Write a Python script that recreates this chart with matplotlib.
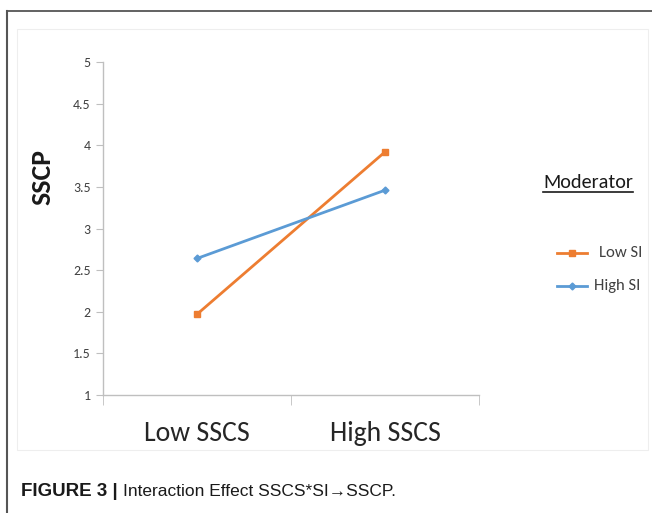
import matplotlib.pyplot as plt
from matplotlib.lines import Line2D
from matplotlib.patches import Rectangle
from matplotlib import font_manager

categories = ["Low SSCS", "High SSCS"]
low_si = [1.97, 3.92]
high_si = [2.64, 3.46]
y_ticks = [1, 1.5, 2, 2.5, 3, 3.5, 4, 4.5, 5]
y_labels = ["1", "1.5", "2", "2.5", "3", "3.5", "4", "4.5", "5"]

ORANGE = "#ED7D31"
BLUE = "#5B9BD5"
AXIS_GRAY = "#BFBFBF"
TEXT = "#404040"

names = {f.name for f in font_manager.fontManager.ttflist}
cap_font = "Liberation Sans Narrow" if "Liberation Sans Narrow" in names else "Liberation Sans"
chart_font = "Carlito" if "Carlito" in names else "Lato"

W, H = 652, 513
fig = plt.figure(figsize=(W / 100, H / 100), dpi=100)

def fx(px):
    return px / W

def fy(py):
    return 1 - py / H

# outer frame (left + top)
fig.add_artist(Line2D([fx(7), fx(7)], [fy(11), 0], color="#555555", lw=1.5))
fig.add_artist(Line2D([fx(7), 1], [fy(11), fy(11)], color="#555555", lw=1.3))
# faint chart area box
fig.add_artist(Rectangle((fx(17), fy(450)), fx(648) - fx(17), fy(29) - fy(450),
                         transform=fig.transFigure, fill=False, ec="#eeeeee", lw=0.8))

ax = fig.add_axes([fx(103), fy(395), fx(479) - fx(103), fy(62) - fy(395)])
x = [0.5, 1.5]
ax.plot(x, low_si, color=ORANGE, lw=2, marker="s", ms=5, label="Low SI")
ax.plot(x, high_si, color=BLUE, lw=2, marker="D", ms=3.5, label="High SI")

ax.set_xlim(0, 2)
ax.set_ylim(1, 5)
ax.set_yticks(y_ticks)
ax.set_yticklabels(y_labels, fontsize=10, color=TEXT, family=chart_font)
ax.set_xticks(x)
ax.set_xticklabels(categories, fontsize=20, color="#262626", family=chart_font)
ax.set_xticks([0, 1, 2], minor=True)
ax.tick_params(axis="x", which="major", length=0, pad=19)
ax.tick_params(axis="x", which="minor", length=7, color=AXIS_GRAY, direction="out")
ax.tick_params(axis="y", length=5, color=AXIS_GRAY, direction="out", pad=4)
for s in ["top", "right"]:
    ax.spines[s].set_visible(False)
for s in ["left", "bottom"]:
    ax.spines[s].set_color(AXIS_GRAY)
    ax.spines[s].set_linewidth(1)

fig.text(fx(42), fy(177), "SSCP", rotation=90, fontsize=20, fontweight="bold",
         ha="center", va="center", family=chart_font, color="#1a1a1a")

# legend
fig.text(fx(588), fy(182), "Moderator", fontsize=14.5, ha="center", va="center",
         family=chart_font, color="#1a1a1a")
fig.add_artist(Line2D([fx(543), fx(633)], [fy(192), fy(192)], color="#1a1a1a", lw=1.2))
leg_items = [("Low SI", ORANGE, "s", 5, 253, 599), ("High SI", BLUE, "D", 3.5, 286, 594)]
for label, col, mk, ms, py, tx in leg_items:
    fig.add_artist(Line2D([fx(557), fx(587)], [fy(py), fy(py)], color=col, lw=2))
    fig.add_artist(Line2D([fx(572)], [fy(py)], color=col, marker=mk, ms=ms, lw=0))
    fig.text(fx(tx), fy(py), label, fontsize=12, va="center", family=chart_font, color=TEXT)

# caption
t = fig.text(fx(21), fy(492), "FIGURE 3 |", fontsize=13.5, fontweight="bold",
             va="center", family="Liberation Sans", color="#1a1a1a")
fig.canvas.draw()
bb = t.get_window_extent()
fig.text((bb.x1 + 5) / W, fy(492), "Interaction Effect SSCS*SI\u2192SSCP.", fontsize=12.5,
         va="center", family=[cap_font, "DejaVu Sans"], color="#1a1a1a")

fig.savefig("out.png", dpi=100)
